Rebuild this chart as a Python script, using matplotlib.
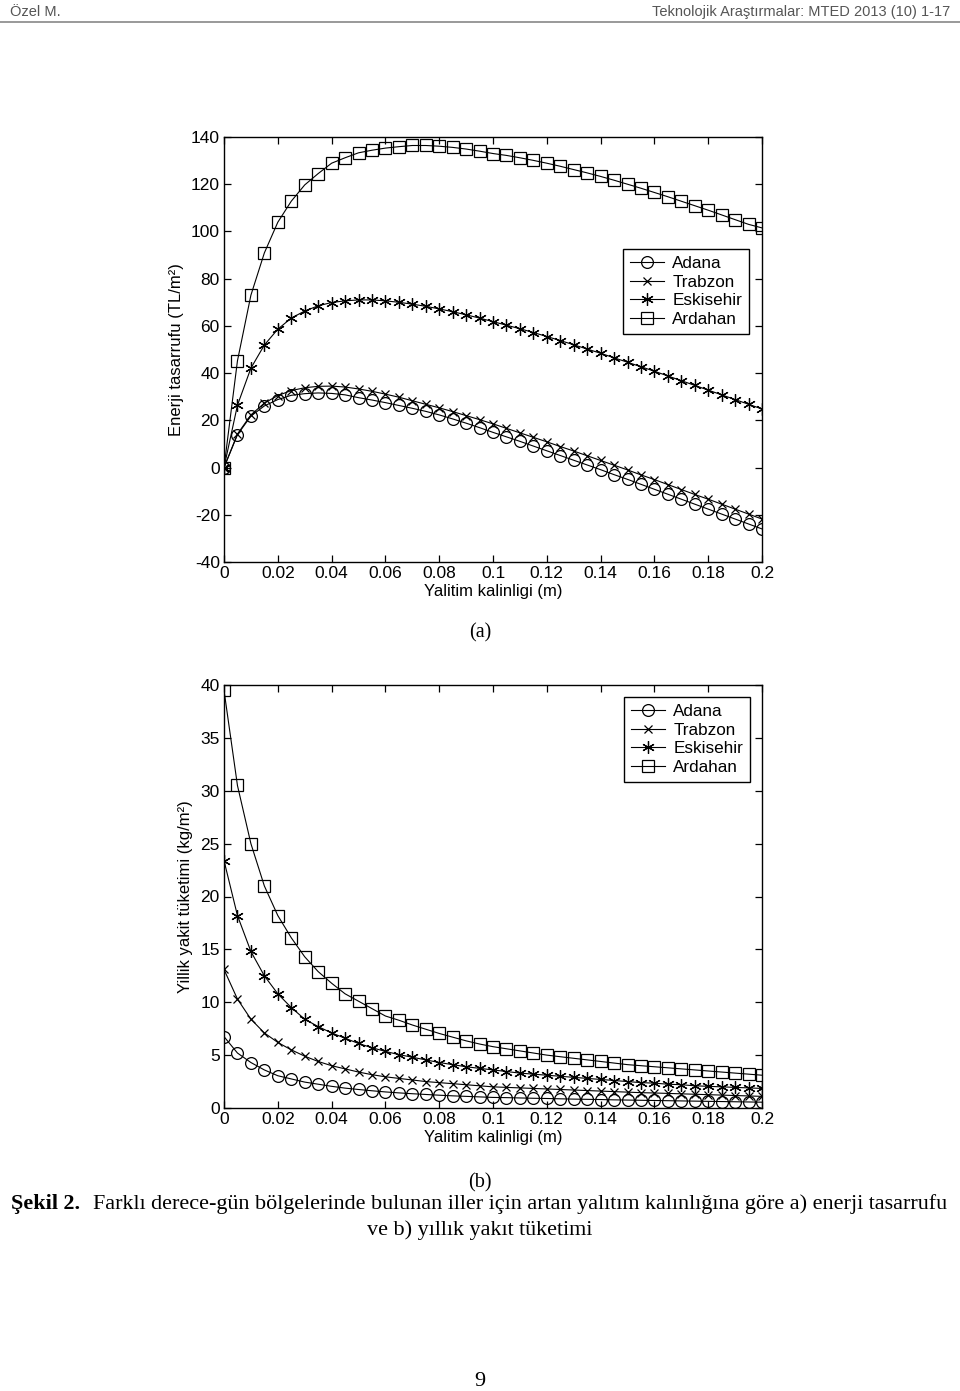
import matplotlib
matplotlib.use("Agg")
import matplotlib.pyplot as plt
from matplotlib.ticker import FuncFormatter

plt.rcParams["axes.unicode_minus"] = False

# insulation thickness (m), same grid for both panels
thickness = [0.000, 0.005, 0.010, 0.015, 0.020, 0.025, 0.030, 0.035, 0.040, 0.045,
             0.050, 0.055, 0.060, 0.065, 0.070, 0.075, 0.080, 0.085, 0.090, 0.095,
             0.100, 0.105, 0.110, 0.115, 0.120, 0.125, 0.130, 0.135, 0.140, 0.145,
             0.150, 0.155, 0.160, 0.165, 0.170, 0.175, 0.180, 0.185, 0.190, 0.195,
             0.200]
cities = ["Adana", "Trabzon", "Eskisehir", "Ardahan"]

# (a) energy saving, TL/m2
saving_adana = [0, 13.9, 21.8, 26.1, 28.8, 30.6, 31.3, 31.6, 31.4, 30.8,
                29.6, 28.6, 27.5, 26.3, 25.1, 23.8, 22.3, 20.6, 18.8, 16.9,
                14.9, 13.0, 11.1, 9.1, 7.1, 5.1, 3.1, 1.1, -0.9, -3.0,
                -5.0, -7.1, -9.2, -11.3, -13.4, -15.5, -17.6, -19.7, -21.8, -23.9,
                -26.0]
saving_trabzon = [0, 14.2, 22.3, 27.3, 30.5, 32.6, 33.8, 34.4, 34.5, 34.1,
                  33.3, 32.3, 31.1, 29.8, 28.3, 26.8, 25.3, 23.7, 22.0, 20.3,
                  18.5, 16.6, 14.7, 12.8, 10.9, 8.9, 7.0, 5.0, 3.0, 1.0,
                  -1.0, -3.1, -5.1, -7.2, -9.3, -11.4, -13.4, -15.5, -17.6, -19.7,
                  -21.8]
saving_eskisehir = [0, 26.4, 42.1, 51.9, 58.6, 63.3, 66.3, 68.5, 69.9, 70.6,
                    71.0, 71.0, 70.6, 70.0, 69.2, 68.3, 67.2, 66.0, 64.7, 63.3,
                    61.8, 60.3, 58.8, 57.2, 55.5, 53.8, 52.0, 50.2, 48.4, 46.5,
                    44.6, 42.7, 40.8, 38.8, 36.8, 34.8, 32.8, 30.8, 28.8, 26.8,
                    24.8]
saving_ardahan = [0, 45.2, 73.0, 90.9, 103.9, 112.8, 119.7, 124.5, 128.9, 131.2,
                  133.3, 134.4, 135.3, 135.9, 136.4, 136.4, 136.1, 135.6, 134.9, 134.0,
                  133.0, 132.2, 131.2, 130.1, 128.9, 127.6, 126.2, 124.8, 123.3, 121.7,
                  120.0, 118.3, 116.5, 114.7, 112.8, 110.9, 109.0, 107.0, 105.0, 103.0,
                  101.5]

# (b) annual fuel consumption, kg/m2
fuel_adana = [6.75, 5.2, 4.3, 3.6, 3.05, 2.75, 2.45, 2.25, 2.05, 1.88,
              1.75, 1.63, 1.52, 1.43, 1.35, 1.28, 1.21, 1.15, 1.1, 1.05,
              1.0, 0.98, 0.95, 0.92, 0.9, 0.87, 0.84, 0.82, 0.8, 0.77,
              0.75, 0.73, 0.71, 0.69, 0.67, 0.65, 0.63, 0.61, 0.59, 0.57,
              0.55]
fuel_trabzon = [13.1, 10.3, 8.4, 7.1, 6.2, 5.5, 4.9, 4.4, 4.0, 3.7,
                3.4, 3.15, 2.95, 2.8, 2.65, 2.5, 2.4, 2.3, 2.2, 2.1,
                2.0, 1.95, 1.9, 1.85, 1.8, 1.75, 1.7, 1.65, 1.6, 1.55,
                1.5, 1.45, 1.42, 1.38, 1.34, 1.3, 1.26, 1.22, 1.18, 1.14,
                1.1]
fuel_eskisehir = [23.4, 18.2, 14.8, 12.5, 10.8, 9.5, 8.4, 7.7, 7.1, 6.6,
                  6.1, 5.7, 5.35, 5.05, 4.8, 4.55, 4.3, 4.1, 3.9, 3.75,
                  3.6, 3.45, 3.3, 3.2, 3.1, 3.0, 2.9, 2.8, 2.7, 2.6,
                  2.5, 2.4, 2.35, 2.25, 2.2, 2.1, 2.05, 2.0, 1.95, 1.9,
                  1.85]
fuel_ardahan = [39.5, 30.5, 25.0, 21.0, 18.2, 16.1, 14.3, 12.9, 11.8, 10.8,
                10.1, 9.4, 8.7, 8.3, 7.85, 7.45, 7.05, 6.7, 6.35, 6.05,
                5.8, 5.6, 5.4, 5.2, 5.0, 4.85, 4.7, 4.55, 4.4, 4.25,
                4.1, 4.0, 3.9, 3.8, 3.7, 3.6, 3.5, 3.4, 3.3, 3.2,
                3.1]

xticks = [0, 0.02, 0.04, 0.06, 0.08, 0.1, 0.12, 0.14, 0.16, 0.18, 0.2]
yticks_a = [-40, -20, 0, 20, 40, 60, 80, 100, 120, 140]
yticks_b = [0, 5, 10, 15, 20, 25, 30, 35, 40]

SANS = ["Liberation Sans", "DejaVu Sans"]
SERIF = ["Liberation Serif", "DejaVu Serif"]
ASTERISK = (6, 2, 0)
MARKERS = [("o", 8.5), ("x", 5.5), (ASTERISK, 9), ("s", 8.5)]


def draw_panel(ax, series, yticks, ylabel, legend_anchor):
    for name, ys, (mk, ms) in zip(cities, series, MARKERS):
        ax.plot(thickness, ys, color="black", lw=0.8, marker=mk, ms=ms,
                mfc="none", mec="black", mew=0.9, label=name)
    ax.set_xlim(0, 0.2)
    ax.set_ylim(yticks[0], yticks[-1])
    ax.set_xticks(xticks)
    ax.set_yticks(yticks)
    ax.xaxis.set_major_formatter(FuncFormatter(lambda v, _: f"{v:g}"))
    ax.tick_params(direction="in", top=True, right=True, length=5,
                   width=0.9, pad=3, labelsize=12.5)
    for lab in ax.get_xticklabels() + ax.get_yticklabels():
        lab.set_family(SANS)
    for sp in ax.spines.values():
        sp.set_linewidth(1.0)
    ax.set_xlabel("Yalitim kalinligi (m)", family=SANS, fontsize=12, labelpad=2)
    ax.set_ylabel(ylabel, family=SANS, fontsize=12, labelpad=5)
    leg = ax.legend(loc="upper right", bbox_to_anchor=legend_anchor,
                    borderaxespad=0, fancybox=False, framealpha=1,
                    edgecolor="black", numpoints=1, handlelength=2.0,
                    labelspacing=0.22, borderpad=0.4, handletextpad=0.5,
                    prop={"family": SANS, "size": 12.3})
    leg.get_frame().set_linewidth(1.0)


fig = plt.figure(figsize=(9.6, 13.91), dpi=100)

ax_a = fig.add_axes([224 / 960, 1 - 562 / 1391, 538 / 960, 425 / 1391])
draw_panel(ax_a, [saving_adana, saving_trabzon, saving_eskisehir, saving_ardahan],
           yticks_a, "Enerji tasarrufu (TL/m²)", (0.976, 0.7365))

ax_b = fig.add_axes([224 / 960, 1 - 1108 / 1391, 538 / 960, 423 / 1391])
draw_panel(ax_b, [fuel_adana, fuel_trabzon, fuel_eskisehir, fuel_ardahan],
           yticks_b, "Yillik yakit tüketimi (kg/m²)", (0.978, 0.9716))


def px(x, y):
    return x / 960, 1 - y / 1391


# page header
fig.text(*px(10, 12), "Özel M.", family=SANS,
         fontsize=10.5, color="#555555", va="center", ha="left")
fig.text(*px(950, 12), "Teknolojik Araştırmalar: MTED 2013 (10) 1-17",
         family=SANS, fontsize=10.5, color="#555555", va="center", ha="right")
fig.add_artist(plt.Line2D([0, 1], [1 - 22 / 1391] * 2, color="#888888", lw=1.2))

# panel captions and figure caption
fig.text(*px(480, 633), "(a)", family=SERIF, fontsize=14.5, ha="center", va="center")
fig.text(*px(480, 1183), "(b)", family=SERIF, fontsize=14.5, ha="center", va="center")
fig.text(*px(11, 1204), "Şekil 2.", family=SERIF, fontsize=15.9,
         weight="bold", ha="left", va="center")
fig.text(*px(947, 1204), "Farklı derece-gün bölgelerinde bulunan iller için artan "
         "yalıtım kalınlığına göre a) enerji tasarrufu",
         family=SERIF, fontsize=15.9, ha="right", va="center")
fig.text(*px(480, 1230), "ve b) yıllık yakıt tüketimi", family=SERIF,
         fontsize=15.9, ha="center", va="center")
fig.text(*px(480, 1381), "9", family=SERIF, fontsize=15.9, ha="center", va="center")

fig.savefig("out.png", dpi=100, facecolor="white")
